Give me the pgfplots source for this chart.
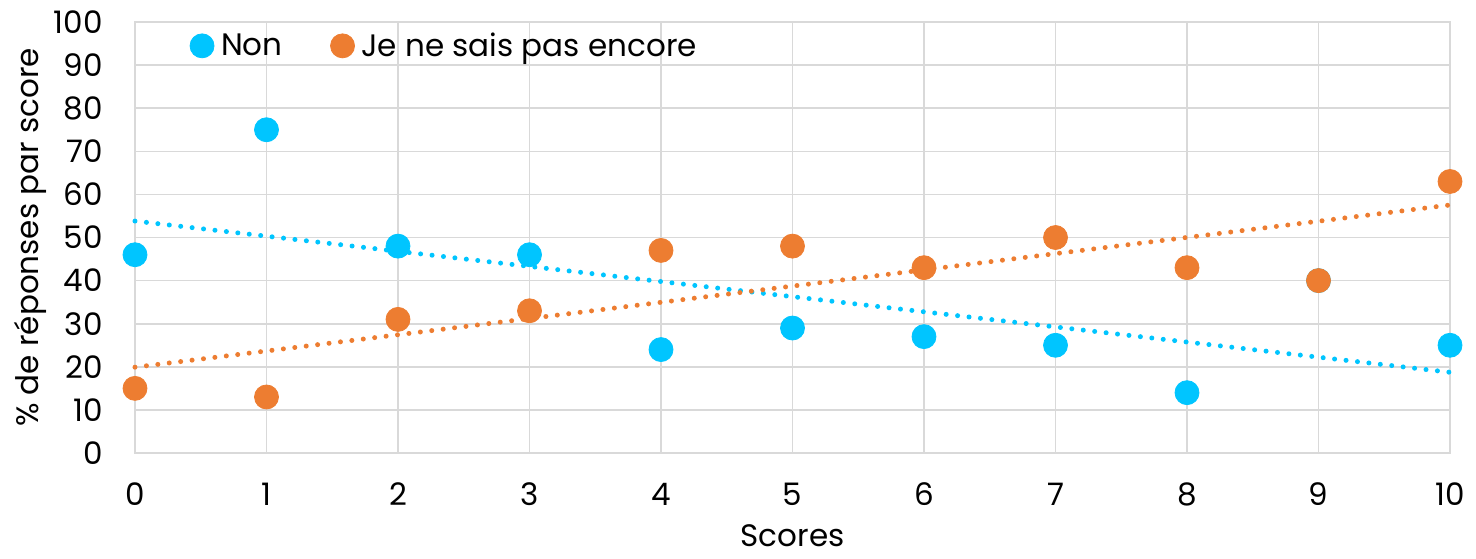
\documentclass[border=0pt]{standalone}
\usepackage{fontspec}
\setmainfont{Poppins}
\usepackage{pgfplots}
\usepackage{pgfplotstable}
\pgfplotsset{compat=1.18}
\definecolor{cyanN}{RGB}{0,197,255}
\definecolor{orangeJ}{RGB}{237,125,49}
\definecolor{gridc}{RGB}{217,217,217}
\pgfplotstableread{
x non jns
0 46 15
1 75 13
2 48 31
3 46 33
4 24 47
5 29 48
6 27 43
7 25 50
8 14 43
9 40 40
10 25 63
}\data
\begin{document}
\begin{tikzpicture}
\path[use as bounding box] (-67.5pt,-52.5pt) rectangle (670.5pt,226.5pt);
\begin{axis}[
 at={(0pt,0pt)}, anchor=south west,
 scale only axis, width=657.5pt, height=215.5pt,
 xmin=0, xmax=10, ymin=0, ymax=100,
 xtick={0,...,10}, ytick={0,10,...,100},
 grid=major, major grid style={gridc, line width=0.8pt},
 axis line style={gridc, line width=0.8pt},
 tick style={draw=none},
 font=\fontsize{15.5}{18}\selectfont,
 tick label style={font=\fontsize{15.5}{18}\selectfont},
 label style={font=\fontsize{15.5}{18}\selectfont},
 /pgf/number format/assume math mode=true,
 xticklabel style={anchor=center, yshift=-20.5pt},
 yticklabel style={anchor=east, inner sep=0pt, xshift=-16pt},
 xlabel={Scores}, ylabel={\% de réponses par score},
 xlabel style={at={(axis description cs:0.5,-0.193)}, anchor=center, inner sep=0pt},
 ylabel style={at={(axis description cs:-0.0798,0.5)}, anchor=center},
 clip=false,
 legend style={draw=none, fill=none, at={(0.037,0.995)}, anchor=north west,
   legend columns=-1, font=\fontsize{15.5}{18}\selectfont,
   /tikz/every even column/.append style={column sep=22pt},
   /tikz/every odd column/.append style={column sep=1.5pt}},
 legend cell align=left,
]
\addplot[cyanN, line width=2.5pt, line cap=round, dash pattern=on 0pt off 5.75pt, forget plot]
  table[x=x, y={create col/linear regression={y=non}}] {\data};
\addplot[orangeJ, line width=2.5pt, line cap=round, dash pattern=on 0pt off 5.75pt, forget plot]
  table[x=x, y={create col/linear regression={y=jns}}] {\data};
\addplot[only marks, mark=*, mark size=6pt, cyanN, mark options={fill=cyanN, draw=cyanN}] table[x=x, y=non] {\data};
\addlegendentry{Non}
\addplot[only marks, mark=*, mark size=6pt, orangeJ, mark options={fill=orangeJ, draw=orangeJ}] table[x=x, y=jns] {\data};
\addlegendentry{Je ne sais pas encore}
\end{axis}
\end{tikzpicture}
\end{document}
